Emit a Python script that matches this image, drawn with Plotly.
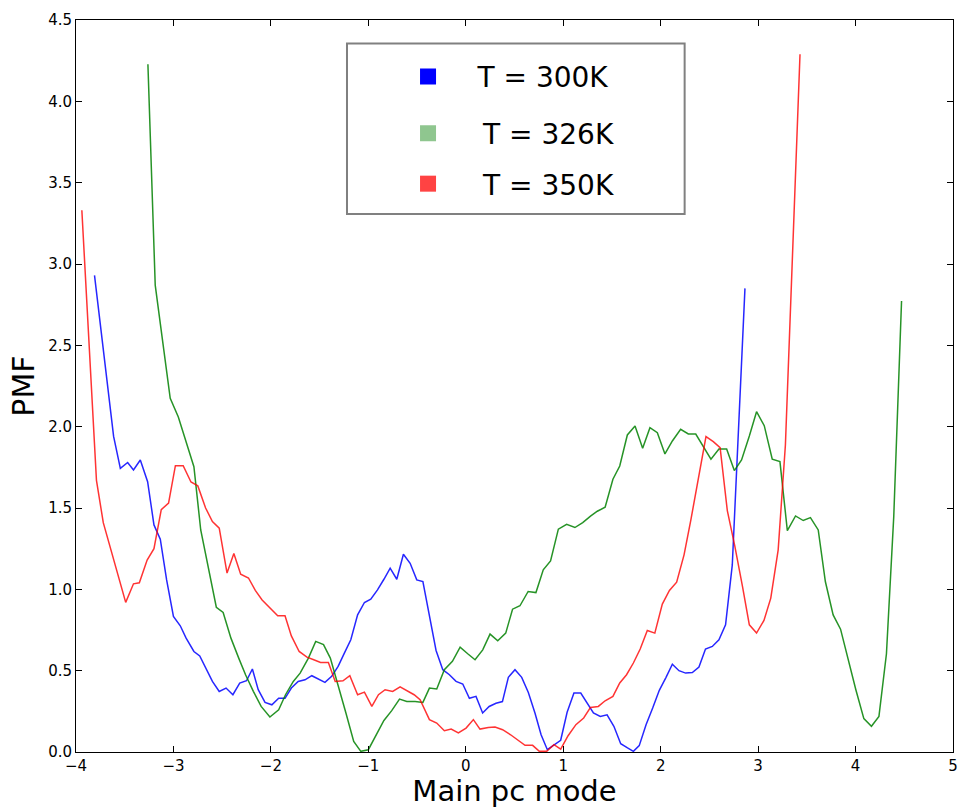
import plotly.graph_objects as go

# ---- data ----
x_300 = [-3.81, -3.745, -3.68, -3.614, -3.545, -3.47, -3.41, -3.34, -3.265, -3.20, -3.135, -3.07, -3.00, -2.93,
         -2.87, -2.79, -2.73, -2.66, -2.60, -2.53, -2.46, -2.39, -2.32, -2.25, -2.19, -2.13, -2.06, -1.99, -1.92,
         -1.855, -1.79, -1.72, -1.65, -1.58, -1.51, -1.445, -1.376, -1.31, -1.246, -1.18, -1.11, -1.04, -0.975,
         -0.906, -0.84, -0.776, -0.708, -0.64, -0.571, -0.503, -0.44, -0.373, -0.305, -0.236, -0.168, -0.10,
         -0.031, 0.037, 0.105, 0.173, 0.24, 0.31, 0.376, 0.437, 0.505, 0.574, 0.642, 0.71, 0.773, 0.837, 0.905,
         0.974, 1.04, 1.11, 1.18, 1.25, 1.31, 1.38, 1.45, 1.52, 1.59, 1.66, 1.72, 1.78, 1.85, 1.918, 1.986, 2.055,
         2.12, 2.188, 2.256, 2.325, 2.393, 2.46, 2.53, 2.598, 2.666, 2.735, 2.80, 2.865]
pmf_300 = [2.93, 2.60, 2.27, 1.94, 1.744, 1.78, 1.734, 1.795, 1.662, 1.396, 1.308, 1.058, 0.833, 0.776,
           0.70, 0.618, 0.59, 0.51, 0.434, 0.372, 0.393, 0.352, 0.424, 0.438, 0.51, 0.383, 0.305, 0.29, 0.33,
           0.33, 0.393, 0.434, 0.444, 0.469, 0.448, 0.428, 0.465, 0.526, 0.608, 0.69, 0.843, 0.919, 0.94,
           0.997, 1.062, 1.13, 1.062, 1.216, 1.16, 1.058, 1.048, 0.843, 0.624, 0.506, 0.475, 0.434,
           0.418, 0.33, 0.342, 0.24, 0.28, 0.30, 0.31, 0.459, 0.506, 0.459, 0.366, 0.24, 0.106, 0.014, 0.045,
           0.072, 0.244, 0.362, 0.362, 0.30, 0.24, 0.219, 0.229, 0.158, 0.051, 0.025, 0.004, 0.039, 0.168, 0.27,
           0.379, 0.459, 0.54, 0.50, 0.485, 0.489, 0.522, 0.633, 0.649, 0.69, 0.782, 1.15, 2.0, 2.85]

x_326 = [-3.262, -3.187, -3.112, -3.033, -2.95, -2.87, -2.79, -2.72, -2.64, -2.56, -2.49, -2.41, -2.33, -2.26,
         -2.18, -2.10, -2.01, -1.92, -1.85, -1.77, -1.70, -1.615, -1.54, -1.46, -1.39, -1.31, -1.23, -1.15,
         -1.077, -1.0, -0.92, -0.84, -0.76, -0.68, -0.605, -0.52, -0.44, -0.373, -0.298, -0.22, -0.137, -0.058,
         0.02, 0.095, 0.174, 0.249, 0.328, 0.41, 0.48, 0.556, 0.64, 0.72, 0.795, 0.87, 0.95, 1.035, 1.12, 1.20,
         1.28, 1.35, 1.43, 1.51, 1.58, 1.658, 1.737, 1.815, 1.89, 1.966, 2.044, 2.12, 2.205, 2.284, 2.36, 2.437,
         2.516, 2.598, 2.677, 2.756, 2.83, 2.91, 2.984, 3.063, 3.145, 3.224, 3.30, 3.384, 3.463, 3.537, 3.617,
         3.69, 3.77, 3.846, 3.924, 4.003, 4.085, 4.163, 4.24, 4.317, 4.392, 4.472]
pmf_326 = [4.228, 2.87, 2.53, 2.174, 2.06, 1.91, 1.754, 1.365, 1.12, 0.89, 0.858, 0.70, 0.577, 0.475,
           0.373, 0.28, 0.215, 0.26, 0.352, 0.434, 0.485, 0.577, 0.68, 0.66, 0.577, 0.413, 0.24, 0.065,
           0.004, 0.014, 0.106, 0.194, 0.254, 0.325, 0.311, 0.311, 0.305, 0.393, 0.387, 0.506, 0.557, 0.645,
           0.604, 0.567, 0.628, 0.725, 0.684, 0.731, 0.878, 0.899, 0.987, 0.98, 1.12, 1.175, 1.37, 1.40, 1.38, 1.41,
           1.45, 1.48, 1.505, 1.677, 1.758, 1.949, 2.004, 1.867, 1.994, 1.963, 1.832, 1.912, 1.984, 1.955, 1.955, 1.877,
           1.80, 1.863, 1.863, 1.73, 1.795, 1.943, 2.092, 2.006, 1.80, 1.785, 1.361, 1.451, 1.423, 1.441, 1.365,
           1.048, 0.843, 0.755, 0.567, 0.383, 0.205, 0.158, 0.219, 0.604, 1.447, 2.772]

x_350 = [-3.94, -3.865, -3.79, -3.72, -3.655, -3.58, -3.49, -3.41, -3.35, -3.27, -3.20, -3.125, -3.05, -2.98,
         -2.90, -2.82, -2.75, -2.67, -2.60, -2.53, -2.45, -2.38, -2.31, -2.23, -2.16, -2.09, -2.01, -1.93, -1.855,
         -1.79, -1.71, -1.63, -1.56, -1.49, -1.41, -1.34, -1.26, -1.19, -1.11, -1.04, -0.964, -0.896, -0.828,
         -0.75, -0.674, -0.605, -0.53, -0.469, -0.373, -0.298, -0.22, -0.15, -0.076, 0.003, 0.078, 0.146, 0.231,
         0.30, 0.378, 0.46, 0.54, 0.608, 0.686, 0.755, 0.83, 0.905, 0.974, 1.05, 1.13, 1.21, 1.28, 1.36, 1.43,
         1.51, 1.58, 1.65, 1.72, 1.79, 1.863, 1.94, 2.017, 2.09, 2.164, 2.24, 2.31, 2.386, 2.465, 2.54, 2.61,
         2.684, 2.76, 2.84, 2.91, 2.984, 3.06, 3.13, 3.206, 3.28, 3.355, 3.43]
pmf_350 = [3.33, 2.50, 1.67, 1.41, 1.27, 1.10, 0.92, 1.034, 1.04, 1.18, 1.25, 1.49, 1.53, 1.76,
           1.76, 1.66, 1.636, 1.50, 1.417, 1.376, 1.10, 1.22, 1.093, 1.07, 0.993, 0.935, 0.884, 0.837, 0.837,
           0.714, 0.618, 0.583, 0.567, 0.55, 0.55, 0.434, 0.438, 0.469, 0.352, 0.368, 0.28, 0.352, 0.383,
           0.372, 0.40, 0.377, 0.352, 0.321, 0.199, 0.178, 0.131, 0.141, 0.117, 0.147, 0.199, 0.141, 0.151,
           0.154, 0.137, 0.106, 0.072, 0.041, 0.041, 0.004, 0.004, 0.045, 0.018, 0.10, 0.168, 0.209, 0.274, 0.28, 0.315,
           0.342, 0.424, 0.475, 0.547, 0.633, 0.747, 0.731, 0.909, 0.993, 1.044, 1.212, 1.427, 1.683, 1.939, 1.908, 1.871,
           1.484, 1.269, 1.017, 0.782, 0.731, 0.809, 0.946, 1.243, 1.887, 3.05, 4.29]

labels = ["T = 300K", "T = 326K", "T = 350K"]
line_colors = ["rgba(0,0,255,0.85)", "rgba(0,128,0,0.85)", "rgba(255,0,0,0.8)"]
marker_colors = ["#0000ff", "#8fc68f", "#ff4343"]
x_ticks = [-4, -3, -2, -1, 0, 1, 2, 3, 4, 5]
y_ticks = [0.0, 0.5, 1.0, 1.5, 2.0, 2.5, 3.0, 3.5, 4.0, 4.5]

series = [(x_300, pmf_300), (x_326, pmf_326), (x_350, pmf_350)]

FONT = "DejaVu Sans"
fig = go.Figure()

for (xs, ys), col in zip(series, line_colors):
    fig.add_trace(go.Scatter(x=xs, y=ys, mode="lines", line=dict(color=col, width=1.5),
                             showlegend=False, hoverinfo="skip"))

legend_names = ["legend", "legend2", "legend3"]
row_y = [0.9225, 0.845, 0.776]
prefixes = ["\u00a0\u00a0\u00a0\u200a", "\u00a0\u00a0\u00a0\u2009\u200a", "\u00a0\u00a0\u00a0\u2009\u200a"]
for lab, mc, lg, pre in zip(labels, marker_colors, legend_names, prefixes):
    fig.add_trace(go.Scatter(x=[None], y=[None], mode="markers", name=pre + lab,
                             marker=dict(symbol="square", size=17, color=mc, line=dict(width=0)),
                             legend=lg, showlegend=True))

leg_common = dict(bgcolor="rgba(0,0,0,0)", borderwidth=0, font=dict(family=FONT, size=28, color="black"),
                  xanchor="left", yanchor="middle", x=0.3786)
fig.update_layout(
    legend=dict(leg_common, y=row_y[0]),
    legend2=dict(leg_common, y=row_y[1]),
    legend3=dict(leg_common, y=row_y[2]),
)

# legend frame
fig.add_shape(type="rect", xref="paper", yref="paper", x0=0.309, x1=0.694, y0=0.735, y1=0.968,
              line=dict(color="#808080", width=2), fillcolor="rgba(0,0,0,0)", layer="above")

axis_common = dict(showline=True, linecolor="black", linewidth=1, mirror="ticks", ticks="inside",
                   ticklen=6, tickcolor="black", tickwidth=1, showgrid=False, zeroline=False,
                   tickfont=dict(family=FONT, size=15, color="black"))

fig.update_xaxes(axis_common, range=[-4, 5], tickvals=x_ticks,
                 title=dict(text="Main pc mode", font=dict(family=FONT, size=29, color="black"), standoff=6))
fig.update_yaxes(axis_common, range=[0, 4.5], tickvals=y_ticks, tickformat=".1f",
                 title=dict(text="PMF", font=dict(family=FONT, size=30, color="black"), standoff=4))

fig.update_layout(width=960, height=808, margin=dict(l=76, r=7, t=20, b=56, autoexpand=False),
                  plot_bgcolor="white", paper_bgcolor="white", font=dict(family=FONT))

fig.write_html("out.html")
